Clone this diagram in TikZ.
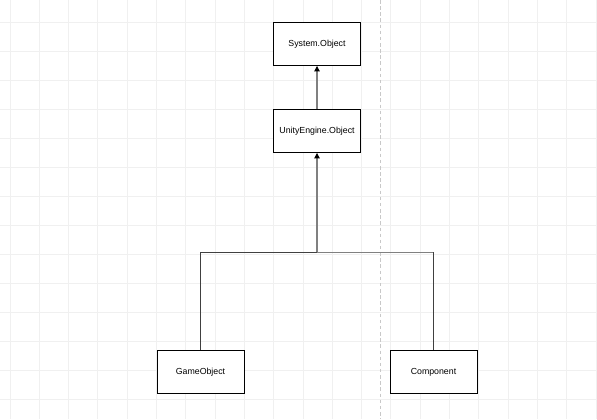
\documentclass[tikz,border=0pt]{standalone}
\usepackage{fontspec}
\setmainfont{Liberation Sans}
\usepackage{xcolor}
\usepackage{tikz}
\usetikzlibrary{arrows.meta, positioning, calc}
\definecolor{cGrid}{RGB}{240,240,240}
\definecolor{cLine}{RGB}{128,128,128}
\definecolor{cGuide}{RGB}{200,200,200}
\tikzset{
	classbox/.style ={rectangle, draw=black, line width=0.55pt, fill=white, minimum width=1.74cm, minimum height=0.86cm, align=center, inner sep=0pt},
	inherit/.style  ={-{Triangle[length=1.1mm, width=1.1mm, color=black]}, draw=cLine, line width=0.6pt},
	branch/.style   ={draw=black!75, line width=0.55pt},
	gridline/.style ={draw=cGrid, line width=0.5pt},
	guide/.style    ={draw=cGuide, line width=0.4pt, dash pattern=on 2pt off 1.5pt},
}
\begin{document}
\begin{tikzpicture}[x=0.02cm, y=-0.02cm, font=\fontsize{5}{6}\selectfont]
	\useasboundingbox (0,0) rectangle (597,419);
	\fill[white] (0,0) rectangle (597,419);
	% background grid
	\foreach \i in {0,...,20} \draw[gridline] ({10+29.3*\i},0) -- ({10+29.3*\i},419);
	\foreach \j in {0,...,14} \draw[gridline] (0,{22.3+29*\j}) -- (597,{22.3+29*\j});
	\draw[guide] (380,0) -- (380,419);
	% classes
	\node[classbox] (sysobj) at (317,44) {System.Object};
	\node[classbox] (unityobj) at (317,131) {UnityEngine.Object};
	\node[classbox] (gameobj) at (200.5,372) {GameObject};
	\node[classbox] (comp) at (433.5,372) {Component};
	\coordinate (split) at (317,252);
	% inheritance
	\draw[inherit] (unityobj) -- (sysobj);
	\draw[inherit] (split) -- (unityobj);
	\draw[branch] (gameobj.north) |- (split);
	\draw[draw=cLine, line width=0.55pt] (split) -- (comp.north |- split);
	\draw[branch] (comp.north |- split) -- (comp.north);
\end{tikzpicture}
\end{document}
